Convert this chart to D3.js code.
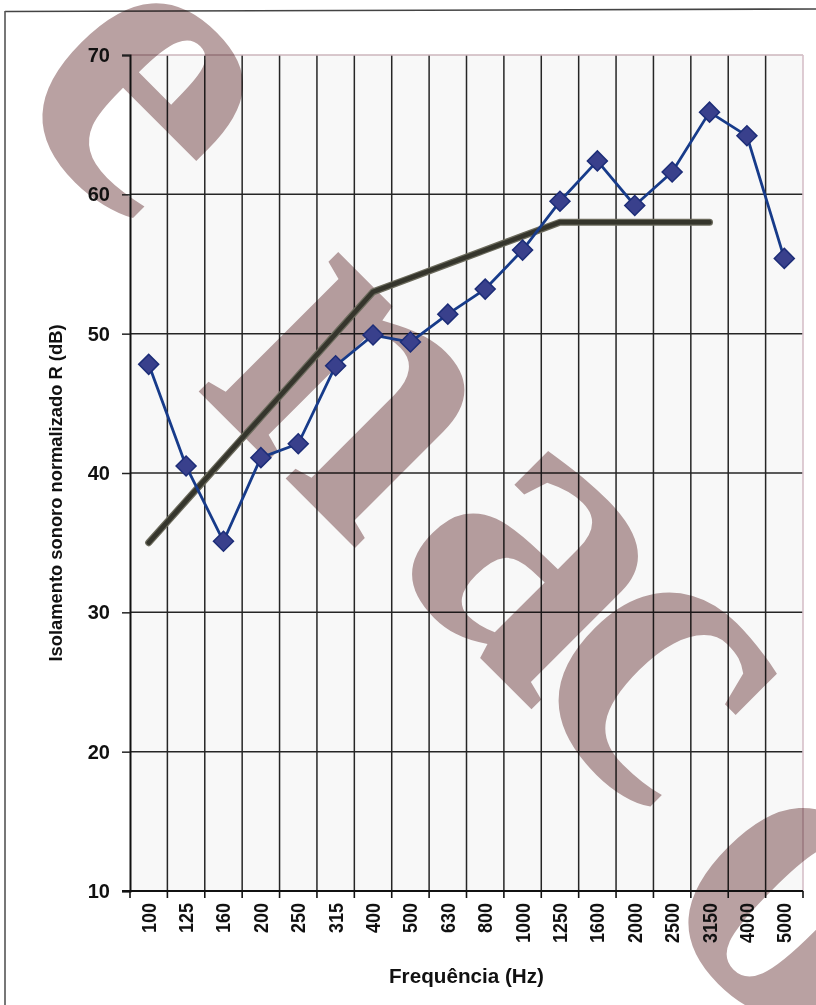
<!DOCTYPE html>
<html><head><meta charset="utf-8">
<script src="https://cdn.jsdelivr.net/npm/d3@7/dist/d3.min.js"></script>
<style>html,body{margin:0;padding:0;background:#fff;} svg{display:block;}</style>
</head><body>
<svg id="chart" width="816" height="1005"></svg>
<script>
// ---- data ----
const categories = ["100","125","160","200","250","315","400","500","630","800","1000","1250","1600","2000","2500","3150","4000","5000"];
const measuredR = [47.8,40.5,35.1,41.1,42.1,47.7,49.9,49.4,51.4,53.2,56.0,59.5,62.4,59.2,61.6,65.9,64.2,55.4];
const referenceCategories = ["100","125","160","200","250","315","400","500","630","800","1000","1250","1600","2000","2500","3150"];
const referenceR = [35,38,41,44,47,50,53,54,55,56,57,58,58,58,58,58];
const yTickValues = [10,20,30,40,50,60,70];
const xTitle = "Frequência (Hz)";
const yTitle = "Isolamento sonoro normalizado R (dB)";
const watermarkLetters = ["e","n","a","c","o"];

// ---- layout ----
const svg = d3.select("#chart");
const L = 130, R = 803, T = 55, B = 891;
const x = d3.scaleBand().domain(categories).range([L, R]).paddingInner(0).paddingOuter(0);
const y = d3.scaleLinear().domain([10,70]).range([B, T]);
const cx = c => x(c) + x.bandwidth()/2;
const gridColor = "#262626";

// outer frame
svg.append("line").attr("x1",5).attr("y1",11.5).attr("x2",816).attr("y2",9).attr("stroke","#444").attr("stroke-width",1.6);
svg.append("line").attr("x1",5).attr("y1",11).attr("x2",5).attr("y2",1005).attr("stroke","#555").attr("stroke-width",1.6);

// plot background
svg.append("rect").attr("x",L).attr("y",T).attr("width",R-L).attr("height",B-T).attr("fill","#f8f8f8");

// horizontal grid
svg.append("g").selectAll("line").data(yTickValues.filter(v => v>10 && v<70)).join("line")
  .attr("x1",L).attr("x2",R).attr("y1",d=>y(d)).attr("y2",d=>y(d))
  .attr("stroke",gridColor).attr("stroke-width",1.5);
// vertical grid at category boundaries
svg.append("g").selectAll("line").data(categories.slice(1)).join("line")
  .attr("x1",d=>x(d)).attr("x2",d=>x(d)).attr("y1",T).attr("y2",B)
  .attr("stroke",gridColor).attr("stroke-width",1.5);
// top / right border (faint)
svg.append("line").attr("x1",L).attr("x2",R).attr("y1",T).attr("y2",T).attr("stroke","#cdb6bd").attr("stroke-width",1.6);
svg.append("line").attr("x1",R).attr("x2",R).attr("y1",T).attr("y2",B).attr("stroke","#d6bfc8").attr("stroke-width",1.6);

// watermark (decorative)
const wmSize = 430;
const wmCenters = [[138,100],[345,398],[530,568],[652,685],[792,912]];
const wm = svg.append("g").style("mix-blend-mode","multiply");
wm.selectAll("text").data(watermarkLetters).join("text")
  .attr("transform",(d,i)=>`translate(${wmCenters[i][0]},${wmCenters[i][1]}) rotate(45)`)
  .attr("y", wmSize*0.23).attr("text-anchor","middle")
  .attr("font-family","'Liberation Serif','Times New Roman',serif").attr("font-weight","bold").attr("font-size",wmSize)
  .attr("fill","#b9a1a2").text(d=>d);

// y axis
const yAxis = d3.axisLeft(y).tickValues(yTickValues).tickSize(8).tickPadding(12).tickFormat(d3.format("d"));
const gy = svg.append("g").attr("transform",`translate(${L},0)`).call(yAxis);
gy.select(".domain").attr("stroke","#111").attr("stroke-width",2);
gy.selectAll(".tick line").attr("stroke","#222").attr("stroke-width",1.5);
gy.selectAll(".tick text").attr("font-family","'Liberation Sans',Arial,sans-serif").attr("font-weight","bold")
  .attr("font-size",20).attr("fill","#111");

// x axis baseline + boundary ticks
svg.append("line").attr("x1",L-8).attr("x2",R).attr("y1",B).attr("y2",B).attr("stroke","#111").attr("stroke-width",2);
svg.append("g").selectAll("line").data(categories.concat(["__end"])).join("line")
  .attr("x1",(d,i)=> i<categories.length ? x(d) : R).attr("x2",(d,i)=> i<categories.length ? x(d) : R)
  .attr("y1",B).attr("y2",B+7).attr("stroke","#111").attr("stroke-width",1.6);
// x tick labels (rotated)
svg.append("g").selectAll("text").data(categories).join("text")
  .attr("transform",d=>`translate(${cx(d)+7},903) rotate(-90)`)
  .attr("text-anchor","end")
  .attr("font-family","'Liberation Sans',Arial,sans-serif").attr("font-weight","bold").attr("font-size",20)
  .attr("textLength",d=>d.length*10).attr("lengthAdjust","spacingAndGlyphs")
  .attr("fill","#111").text(d=>d);

// reference curve
const refPts = referenceCategories.map((c,i)=>[cx(c), y(referenceR[i])]);
svg.append("path").attr("d", d3.line()(refPts)).attr("fill","none")
  .attr("stroke","#6b6a5c").attr("stroke-width",7).attr("stroke-linecap","round").attr("stroke-linejoin","round");
svg.append("path").attr("d", d3.line()(refPts)).attr("fill","none")
  .attr("stroke","#35352c").attr("stroke-width",4.5).attr("stroke-linecap","round").attr("stroke-linejoin","round");

// measured series
const mPts = categories.map((c,i)=>[cx(c), y(measuredR[i])]);
svg.append("path").attr("d", d3.line()(mPts)).attr("fill","none")
  .attr("stroke","#173b8a").attr("stroke-width",2.8).attr("stroke-linejoin","round");
svg.append("g").selectAll("path").data(mPts).join("path")
  .attr("transform",d=>`translate(${d[0]},${d[1]}) rotate(45)`)
  .attr("d", d3.symbol(d3.symbolSquare, 200)())
  .attr("fill","#39408c").attr("stroke","#1d2d78").attr("stroke-width",1.5);

// titles
svg.append("text").attr("x",(L+R)/2).attr("y",983).attr("text-anchor","middle")
  .attr("font-family","'Liberation Sans',Arial,sans-serif").attr("font-weight","bold").attr("font-size",20)
  .attr("textLength",155).attr("lengthAdjust","spacingAndGlyphs").attr("fill","#111").text(xTitle);
svg.append("text").attr("transform","translate(62,493) rotate(-90)").attr("text-anchor","middle")
  .attr("font-family","'Liberation Sans',Arial,sans-serif").attr("font-weight","bold").attr("font-size",19)
  .attr("textLength",337).attr("lengthAdjust","spacingAndGlyphs").attr("fill","#111").text(yTitle);
</script>
</body></html>
